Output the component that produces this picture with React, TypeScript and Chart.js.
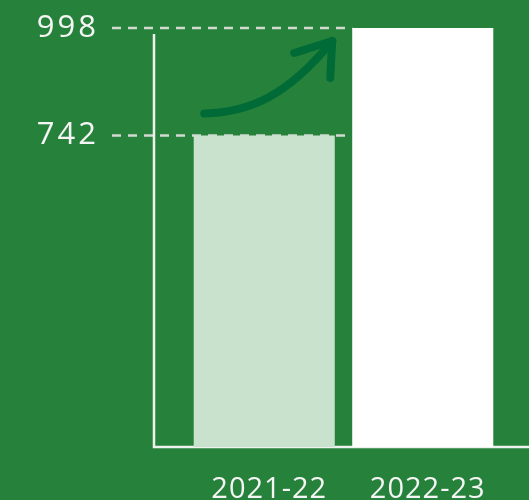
import { useEffect, useRef } from "react";
import { Chart, registerables } from "chart.js";

Chart.register(...registerables);

const categories = ["2021-22", "2022-23"];
const values = [742, 998];
const yTickValues = [742, 998];
const barColors = ["#c8e2cd", "#ffffff"];

const BG = "#26823a";
const LINE = "#eef1ee";
const ARROW = "#006b36";

export default function App() {
  const ref = useRef<HTMLCanvasElement>(null);

  useEffect(() => {
    if (!ref.current) return;
    const deco = {
      id: "deco",
      beforeDatasetsDraw(chart: any) {
        const { ctx, chartArea, scales } = chart;
        const y = scales.y;
        const meta = chart.getDatasetMeta(0);
        const last = meta.data[meta.data.length - 1];
        const stopX = last.x - last.width / 2;
        const axisX = chartArea.left - 31;
        ctx.save();
        // dashed guides
        ctx.strokeStyle = "#d3dad4";
        ctx.lineWidth = 2.5;
        ctx.setLineDash([9, 7]);
        yTickValues.forEach((v) => {
          const py = y.getPixelForValue(v);
          ctx.beginPath();
          ctx.moveTo(112, py);
          ctx.lineTo(stopX, py);
          ctx.stroke();
        });
        ctx.setLineDash([]);
        // axes
        ctx.strokeStyle = LINE;
        ctx.lineWidth = 2.5;
        ctx.beginPath();
        ctx.moveTo(axisX, chartArea.top + 6);
        ctx.lineTo(axisX, chartArea.bottom);
        ctx.lineTo(chart.width, chartArea.bottom);
        ctx.stroke();
        // y labels
        ctx.fillStyle = "#f5f5f5";
        ctx.font = "400 31px 'Open Sans'";
        (ctx as any).letterSpacing = "3px";
        ctx.textAlign = "right";
        ctx.textBaseline = "middle";
        yTickValues.forEach((v) => {
          const py = y.getPixelForValue(v);
          ctx.fillText(String(v), 99, py);
        });
        // x labels
        ctx.font = "400 29px 'Open Sans'";
        (ctx as any).letterSpacing = "1px";
        ctx.textAlign = "center";
        ctx.textBaseline = "alphabetic";
        meta.data.forEach((bar: any, i: number) => {
          ctx.fillText(String(chart.data.labels[i]), bar.x + 5, 498);
        });
        ctx.restore();
      },
      afterDatasetsDraw(chart: any) {
        const { ctx } = chart;
        const meta = chart.getDatasetMeta(0);
        const b1 = meta.data[0];
        const b2 = meta.data[1];
        const sx = b1.x - 60;
        const sy = b1.y - 22;
        const ex = b2.x - b2.width / 2 - 20;
        const ey = b2.y + 13;
        ctx.save();
        ctx.strokeStyle = ARROW;
        ctx.lineWidth = 8;
        ctx.lineCap = "round";
        ctx.lineJoin = "round";
        ctx.beginPath();
        ctx.moveTo(sx, sy);
        ctx.bezierCurveTo(sx + 45, sy - 1, ex - 45, ey + 55, ex, ey);
        ctx.stroke();
        ctx.beginPath();
        ctx.moveTo(ex - 38, ey + 12);
        ctx.lineTo(ex, ey);
        ctx.lineTo(ex - 2, ey + 37);
        ctx.stroke();
        ctx.restore();
      },
    };

    const chart = new Chart(ref.current, {
      type: "bar",
      data: {
        labels: categories,
        datasets: [
          {
            data: values,
            backgroundColor: barColors,
            borderWidth: 0,
            categoryPercentage: 1,
            barPercentage: 0.89,
          },
        ],
      },
      options: {
        animation: false,
        responsive: false,
        maintainAspectRatio: false,
        layout: { padding: { left: 185, right: 27, top: 28, bottom: 53 } },
        plugins: { legend: { display: false }, tooltip: { enabled: false } },
        scales: {
          x: { display: false },
          y: { display: false, min: 0, max: 998 },
        },
      },
      plugins: [deco],
    });
    return () => chart.destroy();
  }, []);

  return (
    <div
      style={{
        position: "fixed",
        left: 0,
        top: 0,
        width: 529,
        height: 500,
        background: BG,
      }}
    >
      <canvas ref={ref} width={529} height={500} style={{ width: 529, height: 500 }} />
    </div>
  );
}
